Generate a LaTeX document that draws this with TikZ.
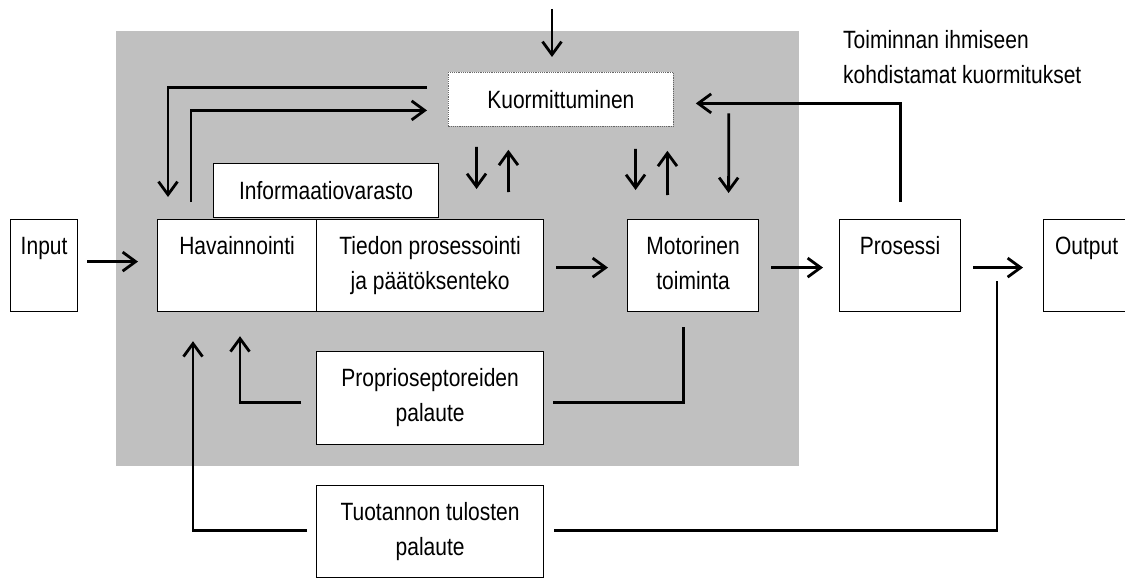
\documentclass[tikz,border=0pt]{standalone}
\usepackage{fontspec}
\setmainfont{Liberation Sans}[FakeStretch=0.84]
\usetikzlibrary{arrows.meta}
\definecolor{panel}{RGB}{192,192,192}
\newcommand\tbox[3]{\parbox[b][#2][t]{#1}{\centering\rule{0pt}{35pt}#3\par}}
\begin{document}
\begin{tikzpicture}[x=1pt,y=-1pt,
  every node/.style={font=\fontsize{25}{35}\selectfont},
  box/.style={draw, line width=1.2pt, fill=white, inner sep=0pt, anchor=north west},
  cbox/.style={draw, line width=1.2pt, fill=white, inner sep=0pt, anchor=north west, minimum width=225pt, minimum height=54pt},
  arr/.style={line width=2.8pt, -{Straight Barb[length=13pt,width=19pt]}},
  ln/.style={line width=2.8pt}]
\useasboundingbox (0,0) rectangle (1125,578);
\fill[panel] (116,31) rectangle (799,466);

% boxes
\node[box] (input) at (10,219) {\tbox{67pt}{92pt}{Input}};
\node[box] (hav) at (157,219) {\tbox{159pt}{92pt}{Havainnointi}};
\node[box] (tied) at (316,219) {\tbox{227pt}{92pt}{Tiedon prosessointi\\ja päätöksenteko}};
\node[box] (motor) at (627,219) {\tbox{131pt}{92pt}{Motorinen\\toiminta}};
\node[box] (proses) at (839,219) {\tbox{121pt}{92pt}{Prosessi}};
\node[box] (output) at (1043,219) {\tbox{86pt}{92pt}{Output}};
\node[cbox] (info) at (213,163) {Informaatiovarasto};
\node[cbox, draw=black!60, densely dotted, line width=0.8pt] (kuorm) at (448,72) {Kuormittuminen};
\node[box] (proprio) at (316,351) {\tbox{227pt}{93pt}{Proprioseptoreiden\\palaute}};
\node[box] (tuot) at (316,485) {\tbox{227pt}{92pt}{Tuotannon tulosten\\palaute}};
\node[anchor=north west, inner sep=0pt] (lbl) at (843,13)
  {\parbox[t]{280pt}{\raggedright\rule{0pt}{35pt}Toiminnan ihmiseen\\kohdistamat kuormitukset}};

% connectors
\coordinate (top) at (552,9);
\draw[arr, shorten >=15pt] (top) -- (top |- kuorm.north);
\draw[arr] ([xshift=-21pt,yshift=12pt]kuorm.west) -| ([xshift=11pt,yshift=22pt]hav.north west);
\draw[arr] ([xshift=34pt,yshift=17pt]hav.north west) |- ([xshift=-21pt,yshift=-11pt]kuorm.west);
\draw[arr] ([xshift=-84.5pt,yshift=-20pt]kuorm.south) -- ([xshift=46.5pt,yshift=30pt]tied.north);
\draw[arr] ([xshift=78.5pt,yshift=27pt]tied.north) -- ([xshift=-52.5pt,yshift=-23pt]kuorm.south);
\draw[arr] ([xshift=74.5pt,yshift=-22pt]kuorm.south) -- ([xshift=-57.5pt,yshift=29pt]motor.north);
\draw[arr] ([xshift=-25.5pt,yshift=24pt]motor.north) -- ([xshift=106.5pt,yshift=-24pt]kuorm.south);
\draw[arr] ([xshift=55pt,yshift=-14pt]kuorm.east) -- ([xshift=35.5pt,yshift=26pt]motor.north);
\draw[arr] ([yshift=17pt]proses.north) |- ([xshift=22pt,yshift=-4pt]kuorm.east);

\draw[arr] ([xshift=9pt,yshift=4pt]input.east) -- ([xshift=-19pt,yshift=4pt]hav.west);
\draw[arr] ([xshift=12pt,yshift=-2pt]tied.east) -- ([xshift=-19pt,yshift=-2pt]motor.west);
\draw[arr] ([xshift=12pt,yshift=-2pt]motor.east) -- ([xshift=-16pt,yshift=-2pt]proses.west);
\draw[arr] ([xshift=12pt,yshift=-2pt]proses.east) -- ([xshift=-20pt,yshift=-2pt]output.west);

\draw[ln] ([xshift=-9.5pt,yshift=-15pt]motor.south) |- ([xshift=9pt,yshift=-4.5pt]proprio.east);
\draw[arr] ([xshift=-15pt,yshift=-4.5pt]proprio.west) -| ([xshift=83pt,yshift=-24pt]hav.south west);
\draw[arr] ([xshift=-9pt,yshift=1pt]tuot.west) -| ([xshift=36pt,yshift=-29pt]hav.south west);
\draw[ln] ([xshift=10pt,yshift=1pt]tuot.east) -| ([xshift=-46pt,yshift=-15pt]output.west);
\end{tikzpicture}
\end{document}
